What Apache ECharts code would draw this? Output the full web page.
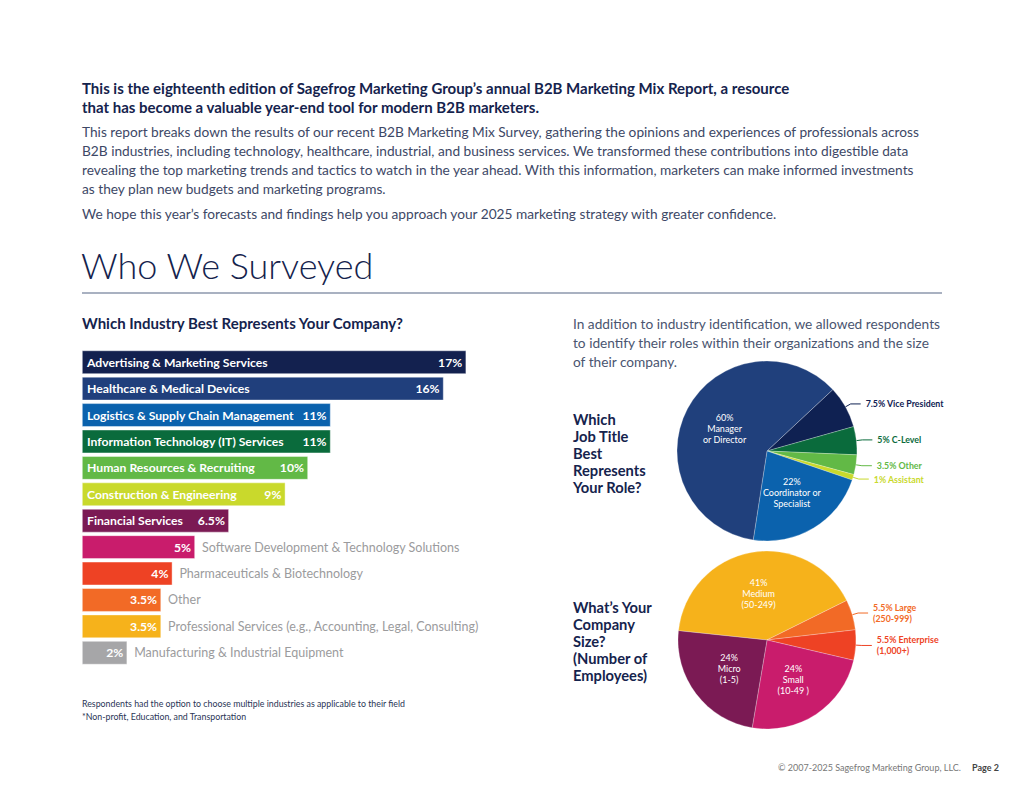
<!DOCTYPE html>
<html>
<head>
<meta charset="utf-8">
<script src="https://cdn.jsdelivr.net/npm/echarts@6/dist/echarts.min.js"></script>
<style>
html,body{margin:0;padding:0;background:#fff;}
#c{width:1024px;height:791px;}
</style>
</head>
<body>
<div id="c"></div>
<script>
// ---- Data ----
var industries = [
  'Advertising & Marketing Services',
  'Healthcare & Medical Devices',
  'Logistics & Supply Chain Management',
  'Information Technology (IT) Services',
  'Human Resources & Recruiting',
  'Construction & Engineering',
  'Financial Services',
  'Software Development & Technology Solutions',
  'Pharmaceuticals & Biotechnology',
  'Other',
  'Professional Services (e.g., Accounting, Legal, Consulting)',
  'Manufacturing & Industrial Equipment'
];
var industryValues = [17, 16, 11, 11, 10, 9, 6.5, 5, 4, 3.5, 3.5, 2];
var insideNameCount = 7; // first seven bars carry their name inside

var roleNames = ['Vice President', 'C-Level', 'Other', 'Assistant', 'Coordinator or\nSpecialist', 'Manager\nor Director'];
var roleValues = [7.5, 5, 3.5, 1, 22, 60];

var sizeNames = ['Medium\n(50-249)', 'Large\n(250-999)', 'Enterprise\n(1,000+)', 'Small\n(10-49 )', 'Micro\n(1-5)'];
var sizeValues = [41, 5.5, 5.5, 24, 24];

// ---- Styles ----
var barColors = ['#13214f', '#203f7c', '#0b62ad', '#0a6b3c', '#62b946', '#c9d92c', '#7b1a54', '#c91c6c', '#ee4224', '#f26a26', '#f6b21b', '#a6a6a8'];
var roleColors = ['#0f2152', '#0a6b3c', '#62b946', '#c9d92c', '#0b62ad', '#20407c'];
var sizeColors = ['#f6b21b', '#f26a26', '#ee4224', '#c91c6c', '#7b1a54'];
var NAVY = '#15234d';
var FONT = 'Lato, "Open Sans", sans-serif';

var chart = echarts.init(document.getElementById('c'), null, {renderer: 'svg'});

var barData = industryValues.map(function (v, i) {
  return {value: v, itemStyle: {color: barColors[i]}};
});
var nameData = industryValues.map(function (v, i) {
  var inside = i < insideNameCount;
  return {
    value: v,
    label: inside ? {
      position: 'insideLeft', distance: 5, color: '#fff', fontWeight: 'bold', fontSize: 12.2
    } : {
      position: 'right', distance: 7, color: '#9b9b9d', fontWeight: 'normal', fontSize: 12.5
    }
  };
});

function pieData(names, values, colors) {
  return values.map(function (v, i) {
    var inside = v >= 20;
    return {
      name: names[i], value: v,
      itemStyle: {color: colors[i]},
      label: inside ? {
        position: 'inside', color: '#fff', fontSize: 9, lineHeight: 11, fontFamily: FONT
      } : {
        position: 'outside', color: colors[i], fontSize: 8.8, lineHeight: 11, fontWeight: 'bold', fontFamily: FONT
      },
      labelLine: {show: !inside, length: 6, length2: 10, lineStyle: {color: colors[i], width: 1}}
    };
  });
}
function pieFormatter(p) {
  var inside = p.value >= 20;
  return p.value + '%' + (inside ? '\n' : ' ') + p.name;
}

var option = {
  animation: false,
  grid: {left: 82, top: 349, width: 452, height: 317},
  xAxis: {type: 'value', min: 0, max: 20, show: false},
  yAxis: {type: 'category', data: industries, inverse: true, show: false},
  series: [
    {
      type: 'bar', data: barData, barCategoryGap: '11%',
      itemStyle: {borderColor: 'rgba(255,255,255,0.7)', borderWidth: 0.6},
      label: {
        show: true, position: 'insideRight', distance: 4, color: '#fff',
        fontFamily: FONT, fontSize: 12.2, fontWeight: 'bold',
        formatter: function (p) { return p.value + '%'; }
      },
      z: 2
    },
    {
      type: 'bar', data: nameData, barGap: '-100%', barCategoryGap: '11%',
      itemStyle: {color: 'rgba(0,0,0,0)'},
      label: {
        show: true, fontFamily: FONT,
        formatter: function (p) { return industries[p.dataIndex]; }
      },
      z: 3, silent: true
    },
    {
      type: 'pie', center: [767, 451], radius: 90, startAngle: 43, clockwise: true,
      data: pieData(roleNames, roleValues, roleColors),
      label: {formatter: pieFormatter},
      itemStyle: {borderColor: 'rgba(255,255,255,0.5)', borderWidth: 0.5},
      avoidLabelOverlap: false
    },
    {
      type: 'pie', center: [767, 640], radius: 89, startAngle: 174, clockwise: true,
      data: pieData(sizeNames, sizeValues, sizeColors),
      label: {formatter: pieFormatter},
      itemStyle: {borderColor: 'rgba(255,255,255,0.5)', borderWidth: 0.5},
      avoidLabelOverlap: false
    }
  ],
  graphic: [
    {type: 'text', left: 82, top: 78, style: {
      text: 'This is the eighteenth edition of Sagefrog Marketing Group\u2019s annual B2B Marketing Mix Report, a resource\nthat has become a valuable year-end tool for modern B2B marketers.',
      font: 'bold 15px ' + FONT, fill: NAVY, lineHeight: 19}},
    {type: 'text', left: 82, top: 122.6, style: {
      text: 'This report breaks down the results of our recent B2B Marketing Mix Survey, gathering the opinions and experiences of professionals across\nB2B industries, including technology, healthcare, industrial, and business services. We transformed these contributions into digestible data\nrevealing the top marketing trends and tactics to watch in the year ahead. With this information, marketers can make informed investments\nas they plan new budgets and marketing programs.',
      font: '13.7px ' + FONT, fill: '#3d4866', lineHeight: 18.8}},
    {type: 'text', left: 82, top: 203.6, style: {
      text: 'We hope this year\u2019s forecasts and findings help you approach your 2025 marketing strategy with greater confidence.',
      font: '13.7px ' + FONT, fill: '#3d4866', lineHeight: 19}},
    {type: 'text', left: 81, top: 244, style: {
      text: 'Who We Surveyed', font: '300 36px ' + FONT, fill: NAVY, lineHeight: 42}},
    {type: 'line', shape: {x1: 82, y1: 293, x2: 942, y2: 293}, style: {stroke: '#8d97ad', lineWidth: 1.3}},
    {type: 'text', left: 82, top: 314, style: {
      text: 'Which Industry Best Represents Your Company?', font: 'bold 15px ' + FONT, fill: NAVY, lineHeight: 18}},
    {type: 'text', left: 573, top: 313.5, style: {
      text: 'In addition to industry identification, we allowed respondents\nto identify their roles within their organizations and the size\nof their company.',
      font: '13.7px ' + FONT, fill: '#4a5570', lineHeight: 19}},
    {type: 'text', left: 573, top: 410.5, style: {
      text: 'Which\nJob Title\nBest\nRepresents\nYour Role?', font: 'bold 14.7px ' + FONT, fill: NAVY, lineHeight: 17}},
    {type: 'text', left: 573, top: 598.5, style: {
      text: 'What\u2019s Your\nCompany\nSize?\n(Number of\nEmployees)', font: 'bold 14.7px ' + FONT, fill: NAVY, lineHeight: 17}},
    {type: 'text', left: 82, top: 697, style: {
      text: 'Respondents had the option to choose multiple industries as applicable to their field\n*Non-profit, Education, and Transportation',
      font: '8.8px ' + FONT, fill: '#2a3556', lineHeight: 13}},
    {type: 'text', left: 778, top: 762, style: {
      text: '\u00a9 2007-2025 Sagefrog Marketing Group, LLC.', font: '9px ' + FONT, fill: '#777', lineHeight: 11}},
    {type: 'text', left: 972, top: 762, style: {
      text: 'Page 2', font: 'bold 9px ' + FONT, fill: '#444', lineHeight: 11}}
  ]
};
chart.setOption(option);
</script>
</body>
</html>
